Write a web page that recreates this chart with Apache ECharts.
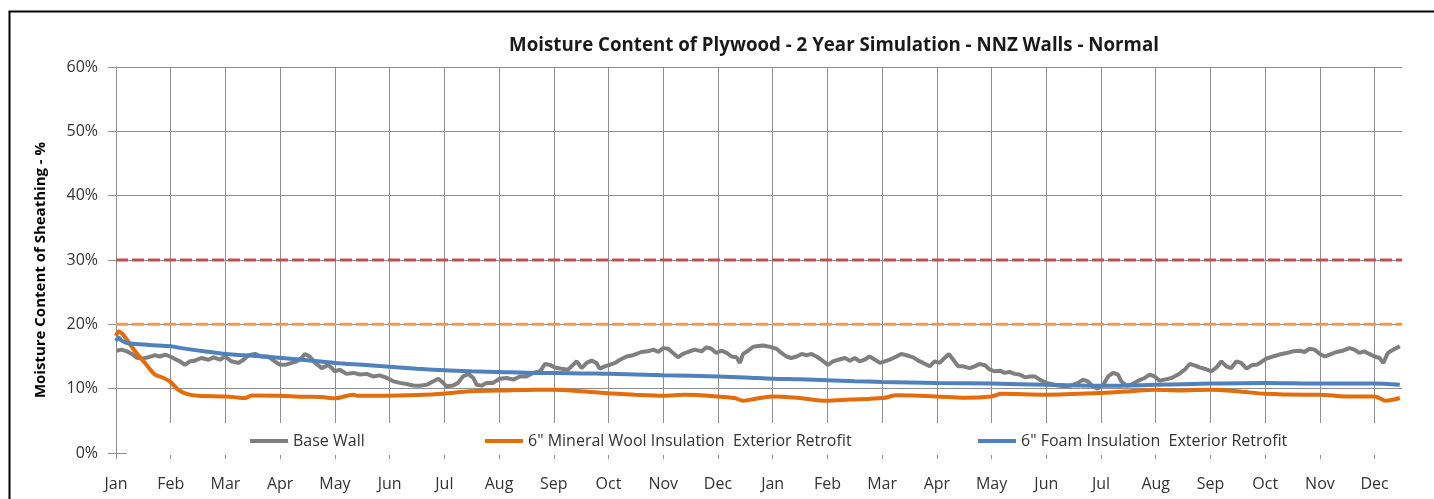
<!DOCTYPE html>
<html>
<head>
<meta charset="utf-8">
<script src="https://cdn.jsdelivr.net/npm/echarts@6/dist/echarts.min.js"></script>
<style>
html,body{margin:0;padding:0;background:#fff;}
#chart{width:1434px;height:499px;}
</style>
</head>
<body>
<div id="chart"></div>
<script>
const monthLabels = ['Jan','Feb','Mar','Apr','May','Jun','Jul','Aug','Sep','Oct','Nov','Dec',
                     'Jan','Feb','Mar','Apr','May','Jun','Jul','Aug','Sep','Oct','Nov','Dec'];
const yTicks = [0, 10, 20, 30, 40, 50, 60];
const seriesNames = ['Base Wall', '6" Mineral Wool Insulation  Exterior Retrofit', '6" Foam Insulation  Exterior Retrofit'];
const thresholdRed = 30;
const thresholdOrange = 20;
const xEnd = 23.5;

// [month position, moisture %]
const baseWall = [
[0.01,15.9],[0.1,16.07],[0.2,15.8],[0.29,15.4],[0.38,14.8],[0.47,14.67],[0.59,14.87],[0.71,15.2],[0.8,15.0],[0.9,15.3],
[0.99,15.0],[1.08,14.6],[1.17,14.25],[1.26,13.7],[1.35,14.25],[1.44,14.35],[1.56,14.77],[1.69,14.5],[1.78,14.87],[1.9,14.5],
[1.99,15.0],[2.11,14.25],[2.24,14.0],[2.33,14.5],[2.42,15.2],[2.54,15.4],[2.66,15.0],[2.78,15.0],[2.9,14.25],[3.0,13.7],
[3.09,13.7],[3.21,14.0],[3.3,14.25],[3.39,14.77],[3.45,15.4],[3.54,15.0],[3.64,14.0],[3.76,13.2],[3.88,13.7],[4.0,12.7],
[4.09,12.95],[4.21,12.3],[4.34,12.45],[4.46,12.2],[4.58,12.3],[4.7,11.9],[4.82,12.07],[4.95,11.66],[5.07,11.14],[5.19,10.9],
[5.31,10.73],[5.43,10.5],[5.55,10.47],[5.68,10.6],[5.8,11.14],[5.89,11.55],[5.98,10.9],[6.04,10.36],[6.16,10.5],[6.25,10.9],
[6.34,11.9],[6.44,12.3],[6.53,11.66],[6.59,10.6],[6.68,10.47],[6.77,10.9],[6.89,10.9],[7.01,11.55],[7.14,11.66],[7.26,11.4],
[7.38,11.9],[7.5,11.9],[7.62,12.45],[7.75,12.7],[7.84,13.84],[7.93,13.7],[8.02,13.3],[8.14,13.1],[8.26,12.95],[8.35,13.7],
[8.42,14.25],[8.51,13.2],[8.6,14.0],[8.69,14.35],[8.78,14.0],[8.84,13.1],[8.93,13.47],[9.02,13.7],[9.12,14.0],[9.21,14.5],
[9.33,15.0],[9.45,15.2],[9.6,15.7],[9.72,15.8],[9.82,16.07],[9.91,15.7],[10.0,16.3],[10.09,16.2],[10.18,15.55],[10.27,14.87],
[10.36,15.4],[10.45,15.7],[10.58,16.07],[10.7,15.8],[10.79,16.43],[10.88,16.2],[10.97,15.55],[11.06,15.9],[11.16,15.55],[11.25,15.0],
[11.34,14.87],[11.4,14.0],[11.46,15.4],[11.55,15.9],[11.64,16.5],[11.7,16.6],[11.83,16.7],[11.95,16.5],[12.07,16.2],[12.16,15.55],
[12.25,15.0],[12.34,14.77],[12.44,15.0],[12.53,15.4],[12.62,15.2],[12.71,15.4],[12.8,15.0],[12.89,14.5],[13.01,13.7],[13.1,14.25],
[13.2,14.5],[13.32,14.77],[13.41,14.35],[13.5,14.77],[13.59,14.25],[13.68,14.5],[13.77,15.0],[13.87,14.5],[13.96,14.0],[14.05,14.25],
[14.14,14.5],[14.26,15.0],[14.35,15.4],[14.44,15.2],[14.57,14.87],[14.66,14.35],[14.75,14.0],[14.87,13.47],[14.96,14.25],[15.05,14.0],
[15.14,14.77],[15.22,15.4],[15.3,14.5],[15.39,13.47],[15.48,13.47],[15.6,13.2],[15.69,13.47],[15.78,13.84],[15.88,13.63],[15.97,12.95],
[16.06,12.7],[16.15,12.8],[16.24,12.45],[16.33,12.6],[16.42,12.3],[16.51,12.2],[16.61,11.76],[16.7,11.9],[16.79,11.9],[16.88,11.4],
[17.0,10.9],[17.09,10.73],[17.21,10.5],[17.34,10.36],[17.46,10.5],[17.58,10.9],[17.67,11.4],[17.76,11.14],[17.85,10.36],[17.94,10.0],
[18.04,10.6],[18.13,11.9],[18.22,12.45],[18.31,12.2],[18.37,11.14],[18.46,10.5],[18.55,10.6],[18.68,11.24],[18.8,11.66],[18.89,12.2],
[18.98,11.9],[19.07,11.24],[19.16,11.4],[19.29,11.66],[19.41,12.2],[19.53,12.95],[19.62,13.84],[19.71,13.63],[19.8,13.3],[19.89,13.1],
[20.02,12.7],[20.11,13.3],[20.2,14.25],[20.29,13.47],[20.38,13.2],[20.47,14.25],[20.56,14.0],[20.66,13.1],[20.75,13.63],[20.84,13.7],
[20.93,14.15],[21.02,14.67],[21.14,15.0],[21.26,15.3],[21.39,15.55],[21.51,15.8],[21.63,15.9],[21.72,15.7],[21.81,16.2],[21.9,16.07],
[22.0,15.4],[22.09,15.0],[22.18,15.3],[22.3,15.7],[22.42,15.9],[22.54,16.3],[22.63,16.07],[22.72,15.55],[22.81,15.8],[22.9,15.4],
[23.0,15.0],[23.09,14.77],[23.16,14.0],[23.24,15.55],[23.34,16.07],[23.46,16.6]
];

const mineralWool = [
[0,18.2],[0.05,18.9],[0.12,18.5],[0.2,17.6],[0.35,15.8],[0.53,14.0],[0.71,12.2],[0.86,11.7],[0.99,11.1],[1.14,9.8],
[1.29,9.2],[1.5,8.9],[2.0,8.8],[2.25,8.6],[2.36,8.55],[2.48,8.95],[2.98,8.9],[3.4,8.75],[3.76,8.7],[4.0,8.5],
[4.34,9.05],[4.4,8.9],[4.95,8.9],[5.5,9.0],[5.98,9.2],[6.47,9.6],[6.98,9.7],[7.68,9.85],[8.02,9.85],[8.5,9.6],
[9.0,9.3],[9.48,9.07],[10.0,8.9],[10.4,9.05],[11.0,8.8],[11.3,8.55],[11.46,8.13],[11.67,8.4],[11.98,8.8],[12.49,8.55],
[12.98,8.13],[13.41,8.3],[14.02,8.55],[14.26,8.96],[14.99,8.8],[15.5,8.6],[16.0,8.8],[16.18,9.2],[17.0,9.07],[18.0,9.33],
[18.55,9.6],[18.98,9.85],[19.44,9.7],[19.99,9.85],[20.5,9.6],[20.99,9.2],[21.75,9.07],[22.0,9.07],[22.48,8.8],[23.0,8.8],
[23.2,8.13],[23.46,8.55]
];

const foam = [
[0,17.4],[0.05,17.9],[0.1,17.5],[0.2,17.1],[0.6,16.8],[1.0,16.6],[1.2,16.3],[1.6,15.8],[2.0,15.4],[2.5,15.1],
[2.98,14.8],[3.5,14.4],[4.0,14.0],[4.5,13.7],[5.0,13.4],[5.5,13.1],[6.0,12.85],[6.5,12.7],[7.0,12.6],[7.68,12.45],
[8.0,12.45],[9.0,12.3],[10.0,12.1],[11.0,11.9],[11.5,11.75],[12.0,11.55],[12.5,11.45],[13.0,11.3],[13.5,11.15],[14.0,11.05],
[15.0,10.9],[16.0,10.8],[17.0,10.6],[18.0,10.45],[18.5,10.5],[19.0,10.6],[20.0,10.8],[21.0,10.9],[22.0,10.8],[23.0,10.8],
[23.46,10.6]
];

const font = '"Open Sans", "Liberation Sans", sans-serif';
const gridColor = '#8e8e8e';
const chart = echarts.init(document.getElementById('chart'), null, {renderer: 'canvas'});

function legendFor(name, left) {
  return {
    data: [name], left: left, top: 433, padding: 0,
    icon: 'rect', itemWidth: 38, itemHeight: 4,
    textStyle: {fontFamily: font, fontSize: 16, color: '#333'},
    selectedMode: false
  };
}

chart.setOption({
  animation: false,
  backgroundColor: '#fff',
  title: {
    text: 'Moisture Content of Plywood - 2 Year Simulation - NNZ Walls - Normal',
    left: 834, top: 36, textAlign: 'center', padding: 0,
    textStyle: {fontFamily: font, fontSize: 18.7, fontWeight: 'bold', color: '#1a1a1a'}
  },
  graphic: [
    {type: 'rect', z: 100, silent: true, shape: {x: 9.5, y: 11.5, width: 1600, height: 700},
     style: {fill: 'none', stroke: '#000', lineWidth: 2}},
    {type: 'rect', z: 3, silent: true, shape: {x: 127, y: 423, width: 1290, height: 32},
     style: {fill: '#fff'}}
  ],
  legend: [
    legendFor(seriesNames[0], 250),
    legendFor(seriesNames[1], 485),
    legendFor(seriesNames[2], 978)
  ],
  grid: {left: 116, right: 32, top: 67, bottom: 46, containLabel: false},
  xAxis: {
    type: 'value', min: 0, max: xEnd, interval: 1,
    axisLine: {show: true, lineStyle: {color: gridColor, width: 1}},
    axisTick: {show: true, length: 6, lineStyle: {color: gridColor}},
    axisLabel: {
      showMaxLabel: false, margin: 23,
      fontFamily: font, fontSize: 16, color: '#333',
      formatter: v => Number.isInteger(v) && v < monthLabels.length ? monthLabels[v] : ''
    },
    splitLine: {show: true, showMaxLine: false, lineStyle: {color: gridColor, width: 1}}
  },
  yAxis: {
    type: 'value', min: yTicks[0], max: yTicks[yTicks.length - 1], interval: 10,
    name: 'Moisture Content of Sheathing - %',
    nameLocation: 'middle', nameGap: 68,
    nameTextStyle: {fontFamily: font, fontSize: 15, fontWeight: 'bold', color: '#000', padding: [0, 20, 0, 0]},
    axisLine: {show: true, lineStyle: {color: gridColor, width: 1}},
    axisTick: {show: true, length: 8, lineStyle: {color: gridColor}},
    axisLabel: {margin: 18, fontFamily: font, fontSize: 16, color: '#333', formatter: '{value}%'},
    splitLine: {show: true, lineStyle: {color: gridColor, width: 1}}
  },
  series: [
    {name: seriesNames[0], type: 'line', data: baseWall, showSymbol: false, symbol: 'none',
     lineStyle: {color: '#7f7f7f', width: 4}, itemStyle: {color: '#7f7f7f'}, z: 2},
    {name: seriesNames[1], type: 'line', data: mineralWool, showSymbol: false, symbol: 'none', smooth: 0.3,
     lineStyle: {color: '#E46C0A', width: 4}, itemStyle: {color: '#E46C0A'}, z: 2},
    {name: seriesNames[2], type: 'line', data: foam, showSymbol: false, symbol: 'none', smooth: 0.3,
     lineStyle: {color: '#4F81BD', width: 4}, itemStyle: {color: '#4F81BD'}, z: 2},
    {name: 'Limit 30%', type: 'line', data: [[0, thresholdRed], [xEnd, thresholdRed]], symbol: 'none',
     lineStyle: {color: '#C0504D', width: 3, type: [12, 4]}, z: 2},
    {name: 'Limit 20%', type: 'line', data: [[0, thresholdOrange], [xEnd, thresholdOrange]], symbol: 'none',
     lineStyle: {color: '#F79646', width: 3, type: [12, 4]}, z: 2}
  ]
});
</script>
</body>
</html>
